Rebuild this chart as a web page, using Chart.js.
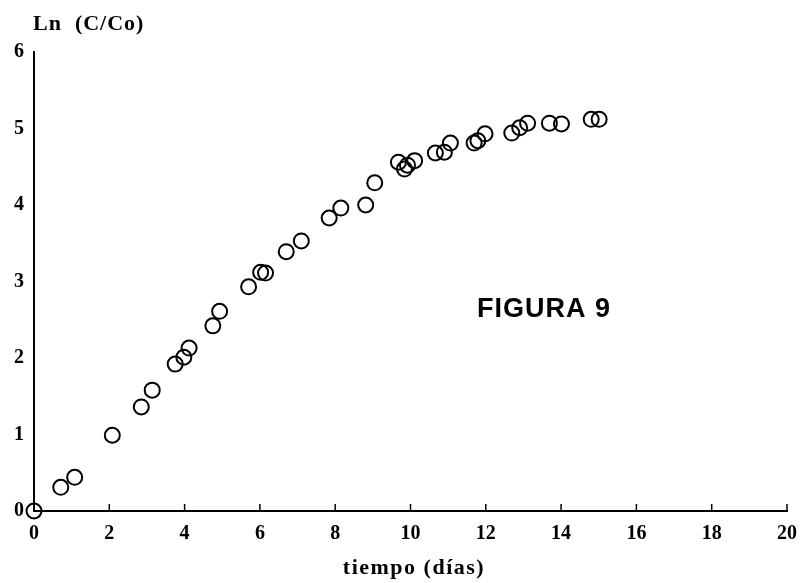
<!DOCTYPE html>
<html>
<head>
<meta charset="utf-8">
<script src="https://cdn.jsdelivr.net/npm/chart.js@4"></script>
<style>
  html, body { margin: 0; padding: 0; background: #fff; }
  #wrap { width: 808px; height: 583px; }
</style>
</head>
<body>
<div id="wrap"><canvas id="fig9"></canvas></div>
<script>
// datos
const tiempoDias = [0, 0.71, 1.08, 2.08, 2.85, 3.14, 3.75, 3.98, 4.12, 4.75, 4.93, 5.70, 6.02, 6.15,
  6.70, 7.10, 7.84, 8.15, 8.81, 9.05, 9.68, 9.84, 9.92, 10.11, 10.66, 10.90, 11.06,
  11.69, 11.79, 11.98, 12.69, 12.90, 13.11, 13.69, 14.01, 14.80, 15.01];
const lnCCo = [0, 0.31, 0.44, 0.99, 1.36, 1.58, 1.92, 2.01, 2.13, 2.42, 2.61, 2.93, 3.12, 3.11,
  3.39, 3.53, 3.83, 3.96, 4.00, 4.29, 4.56, 4.47, 4.52, 4.58, 4.68, 4.69, 4.81,
  4.81, 4.84, 4.93, 4.94, 5.01, 5.07, 5.07, 5.06, 5.12, 5.12];
const xTicks = [0, 2, 4, 6, 8, 10, 12, 14, 16, 18, 20];
const yTicks = [0, 1, 2, 3, 4, 5, 6];

const serifBold = { family: "'Liberation Serif', 'DejaVu Serif', serif", size: 20, weight: "bold" };

// marcas cortas del eje x hacia arriba + textos sueltos
const extras = {
  id: "extras",
  afterDraw(chart) {
    const ctx = chart.ctx;
    const xs = chart.scales.x;
    const area = chart.chartArea;
    ctx.save();
    ctx.strokeStyle = "#000";
    ctx.lineWidth = 1.5;
    xTicks.forEach(function (v) {
      if (v === 0) return;
      const px = xs.getPixelForValue(v);
      ctx.beginPath();
      ctx.moveTo(px, area.bottom);
      ctx.lineTo(px, area.bottom - 7);
      ctx.stroke();
    });

    ctx.fillStyle = "#000";
    ctx.textBaseline = "alphabetic";

    ctx.textAlign = "left";
    ctx.letterSpacing = "1px";
    ctx.font = "bold 22px 'Liberation Serif', serif";
    ctx.fillText("Ln  (C/Co)", 33, 30);

    ctx.textAlign = "center";
    ctx.letterSpacing = "1.5px";
    ctx.fillText("tiempo (días)", 414, 574);

    ctx.textAlign = "left";
    ctx.letterSpacing = "1px";
    ctx.font = "bold 27px 'Liberation Sans', Arial, sans-serif";
    ctx.fillText("FIGURA 9", 477, 317);
    ctx.restore();
  }
};

new Chart(document.getElementById("fig9"), {
  type: "scatter",
  data: {
    datasets: [{
      data: tiempoDias.map(function (t, i) { return { x: t, y: lnCCo[i] }; }),
      pointStyle: "circle",
      pointRadius: 7.5,
      pointBorderWidth: 2,
      pointBorderColor: "#000",
      pointBackgroundColor: "rgba(255,255,255,0)",
      clip: false
    }]
  },
  options: {
    responsive: true,
    maintainAspectRatio: false,
    animation: false,
    events: [],
    layout: { padding: { top: 52, right: 16, left: 0, bottom: 0 } },
    plugins: {
      legend: { display: false },
      tooltip: { enabled: false }
    },
    scales: {
      x: {
        type: "linear",
        min: 0,
        max: 20,
        afterBuildTicks: function (s) { s.ticks = xTicks.map(function (v) { return { value: v }; }); },
        afterFit: function (s) { s.height = 72; },
        grid: { display: false, drawTicks: false },
        border: { display: true, color: "#000", width: 2 },
        ticks: { color: "#000", font: serifBold, padding: 11, maxRotation: 0 }
      },
      y: {
        type: "linear",
        min: 0,
        max: 6,
        afterBuildTicks: function (s) { s.ticks = yTicks.map(function (v) { return { value: v }; }); },
        afterFit: function (s) { s.width = 34; },
        grid: { display: false, drawTicks: false },
        border: { display: true, color: "#000", width: 2 },
        ticks: { color: "#000", font: serifBold, padding: 10 }
      }
    }
  },
  plugins: [extras]
});
</script>
</body>
</html>
